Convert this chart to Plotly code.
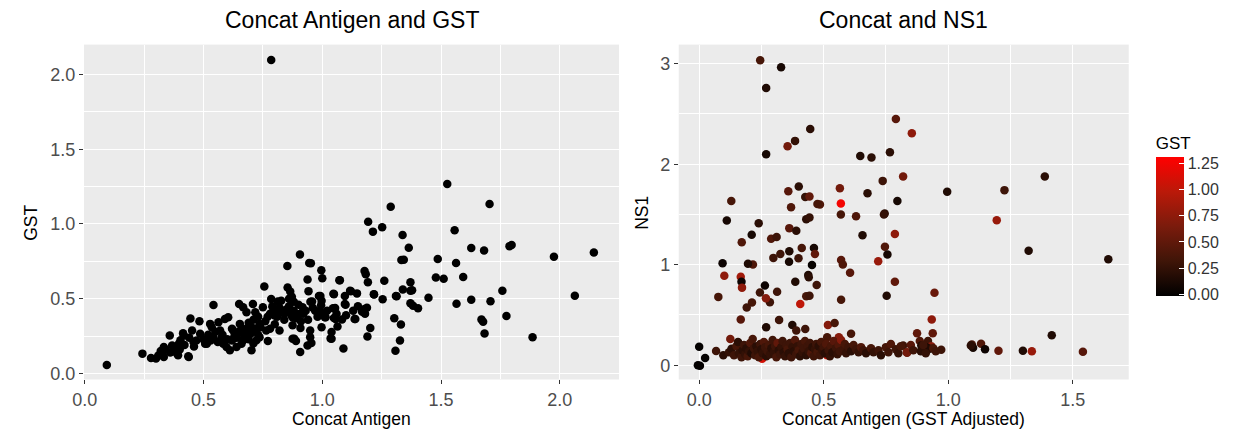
import plotly.graph_objects as go

# ---------------- Left panel: Concat Antigen vs GST ----------------
left_x = [0.093, 0.243, 0.279, 0.300, 0.785,
          1.526, 1.704, 1.288, 1.193, 1.213, 1.252, 1.338, 1.557,
          1.364, 1.627, 1.681, 1.788, 1.797,
          1.333, 1.343, 1.486, 1.563, 1.975, 2.143,
          1.178, 1.183, 1.192, 1.261, 1.072, 0.996, 1.000, 0.945,
          1.478, 1.511, 1.593, 1.371, 1.758, 1.339, 1.371,
          1.117, 1.146, 1.217, 1.310, 1.447, 2.063, 1.095, 1.049,
          1.254, 0.992, 1.627, 1.708, 1.565, 1.371, 1.382, 1.403,
          1.095, 1.045, 1.178, 1.188, 1.167, 1.180, 0.986, 1.011,
          1.049, 1.083, 1.136, 1.303, 1.331, 1.064, 0.997, 1.670, 1.677,
          1.775, 1.202, 1.035, 1.190, 1.327, 1.089, 1.308, 1.683, 1.885,
          0.906, 0.952, 0.853, 0.938, 1.074, 0.756, 0.854, 0.865, 0.942,
          0.872, 0.785, 0.813, 0.986, 0.997, 1.047, 1.120, 1.218, 1.313, 1.378,
          0.957, 1.098, 1.054, 0.995, 0.995, 1.014, 1.056, 1.139, 1.174,
          0.875, 0.908, 0.949, 0.949, 0.954, 0.875, 0.889, 1.039, 1.039, 0.907, 0.938,
          0.792, 0.771, 0.820, 0.875, 0.903, 0.917,
          0.327, 0.333, 0.358, 0.368, 0.393, 0.403, 0.414, 0.445, 0.436, 0.452,
          0.483, 0.486, 0.514, 0.542, 0.535, 0.563, 0.590, 0.604, 0.577, 0.597,
          0.611, 0.639, 0.625, 0.650, 0.667, 0.708, 0.681, 0.718, 0.750, 0.695,
          0.702, 0.660, 0.723, 0.736, 0.764,
          0.333, 0.389, 0.396, 0.417, 0.438, 0.458, 0.507, 0.528, 0.542, 0.570,
          0.583, 0.653, 0.667, 0.702, 0.736, 0.799, 0.827, 0.861, 0.882,
          0.62, 0.63, 0.65, 0.68, 0.70, 0.72, 0.74, 0.76, 0.78, 0.80,
          0.82, 0.84, 0.86, 0.88, 0.90, 0.92, 0.94, 0.96, 0.98, 0.78,
          0.80, 0.84, 0.86, 0.88, 0.67, 0.69, 0.71, 0.73, 0.60, 0.58,
          0.56, 0.55, 0.50, 0.47, 0.44, 0.42, 0.38, 0.36, 0.34, 0.31,
          0.32, 0.40, 0.46, 0.52, 0.53, 0.62, 0.64, 0.66, 0.69, 0.71,
          0.73, 0.77, 0.79, 0.81, 0.83, 0.85, 0.87, 0.89, 0.91, 0.93,
          0.95, 0.97, 1.02, 1.06, 1.10, 1.13, 1.15]
left_y = [0.057, 0.133, 0.104, 0.100, 2.097,
          1.267, 1.133, 1.115, 1.015, 0.949, 0.978, 0.927, 0.958,
          0.841, 0.839, 0.823, 0.852, 0.859,
          0.759, 0.761, 0.766, 0.739, 0.781, 0.810,
          0.686, 0.664, 0.611, 0.620, 0.624, 0.690, 0.637, 0.739,
          0.642, 0.633, 0.646, 0.611, 0.553, 0.562, 0.553,
          0.553, 0.536, 0.531, 0.518, 0.507, 0.520, 0.518, 0.531,
          0.496, 0.518, 0.494, 0.483, 0.467, 0.470, 0.454, 0.436,
          0.465, 0.436, 0.431, 0.440, 0.414, 0.400, 0.416, 0.376,
          0.372, 0.361, 0.365, 0.370, 0.328, 0.315, 0.310, 0.361, 0.347,
          0.385, 0.305, 0.235, 0.248, 0.221, 0.168, 0.153, 0.268, 0.243,
          0.796, 0.737, 0.719, 0.628, 0.624, 0.582, 0.575, 0.549, 0.551,
          0.514, 0.498, 0.482, 0.518, 0.487, 0.534, 0.551, 0.529, 0.516, 0.557,
          0.482, 0.460, 0.438, 0.456, 0.408, 0.376, 0.365, 0.365, 0.410,
          0.323, 0.305, 0.288, 0.243, 0.204, 0.232, 0.217, 0.277, 0.232, 0.144, 0.188,
          0.443, 0.217, 0.288, 0.376, 0.398, 0.443,
          0.133, 0.177, 0.255, 0.188, 0.122, 0.222, 0.270, 0.368, 0.115, 0.288,
          0.350, 0.266, 0.199, 0.458, 0.310, 0.343, 0.365, 0.376, 0.243, 0.177,
          0.155, 0.177, 0.288, 0.465, 0.443, 0.465, 0.409, 0.409, 0.443, 0.266,
          0.155, 0.199, 0.222, 0.332, 0.288,
          0.111, 0.133, 0.199, 0.255, 0.111, 0.210, 0.199, 0.332, 0.243, 0.288,
          0.199, 0.332, 0.222, 0.310, 0.243, 0.388, 0.487, 0.421, 0.232,
          0.22, 0.25, 0.28, 0.30, 0.27, 0.30, 0.31, 0.35, 0.40, 0.42,
          0.44, 0.40, 0.45, 0.42, 0.46, 0.40, 0.36, 0.44, 0.38, 0.30,
          0.33, 0.36, 0.50, 0.48, 0.26, 0.23, 0.20, 0.26, 0.23, 0.26,
          0.21, 0.28, 0.23, 0.22, 0.24, 0.19, 0.16, 0.14, 0.16, 0.12,
          0.15, 0.16, 0.18, 0.26, 0.22, 0.30, 0.24, 0.30, 0.34, 0.36,
          0.38, 0.38, 0.45, 0.38, 0.41, 0.43, 0.39, 0.37, 0.35, 0.42,
          0.48, 0.42, 0.42, 0.40, 0.39, 0.42, 0.45]

# ---------------- Right panel: Concat (GST adjusted) vs NS1, coloured by GST ----------------
right_x = [0.245, 0.329, 0.269, 0.446, 0.385, 0.355, 0.269, 0.790, 0.854, 0.647,
           0.692, 0.766, 0.819, 0.737, 0.676, 0.796, 0.745, 0.742, 0.565, 0.569,
           0.569, 0.630, 0.485, 0.475, 0.400, 0.358, 0.426, 0.443, 0.369, 0.430,
           0.443, 0.362, 0.390, 0.129, 0.111, 0.239, 0.211, 0.786, 0.656, 0.289,
           0.311, 0.746, 0.756, 0.719, 0.786, 0.753, 0.570, 0.577, 0.606, 0.570,
           0.461, 0.465, 0.412, 0.362, 0.399, 0.361, 0.453, 0.438, 0.440, 0.472,
           0.386, 0.326, 0.298, 0.313, 0.284, 0.268, 0.264, 0.244, 0.216, 0.196,
           0.171, 0.167, 0.170, 0.172, 0.212, 0.191, 0.094, 0.101, 0.077, 0.167,
           0.321, 0.269, 0.374, 0.390, 0.426, 0.406, 0.430, 0.443, 0.517, 0.544,
           0.610, 0.996, 1.226, 1.388, 1.195, 1.323, 1.643, 0.945, 0.934, 0.938,
           0.875, 0.886, 1.416,
           0.000, 0.024, -0.005, 0.003,
           0.819, 0.835, 0.919, 0.932, 0.892, 0.912, 0.926, 0.972, 1.095, 1.100,
           1.132, 1.148, 1.202, 1.300, 1.336, 1.541, 1.091,
           0.253, 0.514, 0.594, 0.561, 0.125, 0.834, 0.514,
           0.068, 0.097, 0.120, 0.130, 0.140, 0.150, 0.156, 0.160, 0.170, 0.175,
           0.180, 0.185, 0.190, 0.195, 0.200, 0.205, 0.210, 0.215, 0.220, 0.225,
           0.230, 0.235, 0.240, 0.245, 0.250, 0.255, 0.260, 0.265, 0.270, 0.275,
           0.280, 0.285, 0.290, 0.295, 0.300, 0.305, 0.310, 0.315, 0.320, 0.325,
           0.330, 0.335, 0.340, 0.345, 0.350, 0.355, 0.360, 0.365, 0.370, 0.375,
           0.380, 0.385, 0.390, 0.395, 0.400, 0.405, 0.410, 0.415, 0.420, 0.425,
           0.430, 0.435, 0.440, 0.445, 0.450, 0.455, 0.460, 0.465, 0.470, 0.475,
           0.480, 0.485, 0.490, 0.495, 0.500, 0.505, 0.510, 0.520, 0.525, 0.530,
           0.535, 0.540, 0.550, 0.555, 0.560, 0.565, 0.570, 0.580, 0.585, 0.590,
           0.600, 0.610, 0.620, 0.630, 0.640, 0.650, 0.660, 0.670, 0.690, 0.700,
           0.720, 0.730, 0.750, 0.760, 0.770, 0.790, 0.800, 0.810, 0.850, 0.860,
           0.890, 0.900, 0.910, 0.940, 0.950]
right_y = [3.034, 2.965, 2.757, 2.350, 2.232, 2.179, 2.100, 2.449, 2.308, 2.081,
           2.067, 2.120, 1.877, 1.834, 1.712, 1.633, 1.509, 1.500, 1.761, 1.610,
           1.499, 1.482, 1.600, 1.605, 1.778, 1.732, 1.673, 1.679, 1.571, 1.453,
           1.470, 1.364, 1.337, 1.633, 1.440, 1.413, 1.298, 1.305, 1.292, 1.258,
           1.275, 1.179, 1.101, 1.035, 0.831, 0.690, 1.048, 1.002, 0.920, 0.651,
           1.167, 1.107, 1.167, 1.134, 1.065, 1.029, 0.996, 0.897, 0.875, 0.799,
           0.831, 1.107, 1.068, 0.730, 0.627, 0.667, 0.792, 0.723, 1.002, 1.009,
           1.223, 0.881, 0.831, 0.772, 0.624, 0.575, 1.015, 0.891, 0.680, 0.454,
           0.450, 0.378, 0.400, 0.345, 0.361, 0.608, 0.686, 0.690, 0.400, 0.420,
           0.312, 1.725, 1.742, 1.877, 1.443, 1.140, 1.055, 0.720, 0.454, 0.318,
           0.318, 0.240, 0.299,
           0.183, 0.072, 0.000, -0.005,
           0.197, 0.124, 0.240, 0.190, 0.197, 0.180, 0.164, 0.154, 0.207, 0.174,
           0.213, 0.158, 0.144, 0.144, 0.138, 0.134, 0.197,
           0.065, 0.099, 0.180, 0.279, 0.262, 0.128, 0.279,
           0.141, 0.099, 0.130, 0.164, 0.100, 0.190, 0.230, 0.120, 0.080, 0.150,
           0.200, 0.110, 0.170, 0.090, 0.140, 0.220, 0.120, 0.262, 0.170, 0.100,
           0.190, 0.140, 0.080, 0.210, 0.160, 0.120, 0.230, 0.180, 0.090, 0.140,
           0.200, 0.110, 0.170, 0.250, 0.130, 0.190, 0.080, 0.220, 0.150, 0.110,
           0.180, 0.240, 0.130, 0.090, 0.200, 0.160, 0.120, 0.220, 0.080, 0.180,
           0.140, 0.250, 0.110, 0.190, 0.150, 0.090, 0.210, 0.130, 0.170, 0.240,
           0.100, 0.190, 0.140, 0.220, 0.120, 0.180, 0.090, 0.160, 0.210, 0.130,
           0.190, 0.100, 0.230, 0.150, 0.180, 0.120, 0.210, 0.150, 0.090, 0.190,
           0.130, 0.240, 0.170, 0.110, 0.200, 0.140, 0.250, 0.160, 0.210, 0.120,
           0.180, 0.140, 0.200, 0.160, 0.130, 0.180, 0.150, 0.120, 0.170, 0.130,
           0.150, 0.100, 0.180, 0.130, 0.210, 0.160, 0.120, 0.190, 0.200, 0.150,
           0.140, 0.200, 0.120, 0.170, 0.140]
right_gst = [0.35, 0.10, 0.15, 0.20, 0.25, 0.60, 0.10, 0.45, 0.75, 0.15,
             0.20, 0.20, 0.60, 0.30, 0.20, 0.10, 0.20, 0.25, 0.60, 1.25,
             0.35, 0.40, 0.40, 0.35, 0.20, 0.45, 0.25, 0.50, 0.40, 0.20,
             0.25, 0.45, 0.20, 0.35, 0.10, 0.20, 0.10, 0.75, 0.15, 0.40,
             0.30, 0.40, 0.10, 0.80, 0.50, 0.15, 0.45, 0.40, 0.45, 0.35,
             0.10, 0.50, 0.35, 0.15, 0.30, 0.10, 0.02, 0.15, 0.20, 0.30,
             0.15, 0.30, 0.30, 0.30, 0.30, 0.70, 0.05, 0.30, 0.40, 0.15,
             0.40, 0.85, 0.05, 0.75, 0.35, 0.30, 0.05, 0.75, 0.35, 0.45,
             0.30, 0.15, 0.15, 0.30, 0.30, 1.00, 0.35, 0.30, 0.70, 0.35,
             0.35, 0.15, 0.30, 0.20, 0.80, 0.15, 0.15, 0.55, 0.75, 0.50,
             0.50, 0.40, 0.15,
             0.00, 0.00, 0.00, 0.00,
             0.30, 0.55, 0.30, 0.70, 0.15, 0.10, 0.15, 0.30, 0.35, 0.10,
             0.40, 0.05, 0.50, 0.15, 0.80, 0.45, 0.20,
             1.10, 1.00, 0.80, 0.70, 0.60, 0.60, 0.35,
             0.30, 0.20, 0.25, 0.20, 0.30, 0.35, 0.20, 0.25, 0.30, 0.20,
             0.30, 0.25, 0.20, 0.35, 0.25, 0.40, 0.15, 0.35, 0.30, 0.30,
             0.20, 0.25, 0.35, 0.30, 0.20, 0.25, 0.40, 0.30, 0.20, 0.30,
             0.35, 0.25, 0.20, 0.30, 0.25, 0.30, 0.35, 0.50, 0.20, 0.30,
             0.25, 0.30, 0.20, 0.25, 0.30, 0.35, 0.20, 0.30, 0.30, 0.25,
             0.20, 0.40, 0.30, 0.25, 0.35, 0.20, 0.30, 0.25, 0.30, 0.35,
             0.20, 0.30, 0.25, 0.30, 0.40, 0.20, 0.30, 0.25, 0.30, 0.35,
             0.20, 0.30, 0.35, 0.25, 0.30, 0.20, 0.40, 0.30, 0.25, 0.35,
             0.20, 0.45, 0.30, 0.25, 0.40, 0.30, 0.70, 0.30, 0.35, 0.25,
             0.30, 0.20, 0.35, 0.30, 0.25, 0.40, 0.30, 0.20, 0.35, 0.25,
             0.30, 0.20, 0.35, 0.30, 0.40, 0.30, 0.25, 0.35, 0.45, 0.30,
             0.20, 0.30, 0.25, 0.35, 0.30]

left_xticks = [0.0, 0.5, 1.0, 1.5, 2.0]
left_yticks = [0.0, 0.5, 1.0, 1.5, 2.0]
right_xticks = [0.0, 0.5, 1.0, 1.5]
right_yticks = [0, 1, 2, 3]
cbar_ticks = [0.0, 0.25, 0.5, 0.75, 1.0, 1.25]

FONT = "Liberation Sans, Arial, sans-serif"
W, H = 1233, 437

# colour ramp black -> red (Lab-like interpolation)
cscale = [[0.0, "rgb(0,0,0)"], [0.25, "rgb(63,21,8)"], [0.5, "rgb(122,27,12)"],
          [0.75, "rgb(186,25,9)"], [1.0, "rgb(255,0,0)"]]

fig = go.Figure()
fig.add_trace(go.Scatter(x=left_x, y=left_y, mode="markers", xaxis="x", yaxis="y",
                         marker=dict(color="black", size=8.5, line=dict(width=0)),
                         showlegend=False, hoverinfo="x+y"))
fig.add_trace(go.Scatter(x=right_x, y=right_y, mode="markers", xaxis="x2", yaxis="y2",
                         marker=dict(color=right_gst, colorscale=cscale, cmin=-0.02, cmax=1.31,
                                     size=8.5, line=dict(width=0), showscale=True,
                                     colorbar=dict(
                                         title=dict(text="GST", side="top",
                                                    font=dict(size=17, color="black", family=FONT)),
                                         thickness=28, thicknessmode="pixels",
                                         len=163, lenmode="pixels",
                                         x=1155 / W, xanchor="left", xpad=0,
                                         y=(H - 299) / H, yanchor="bottom", ypad=0,
                                         tickvals=cbar_ticks, ticktext=["0.00", "0.25", "0.50", "0.75", "1.00", "1.25"],
                                         ticks="inside", ticklen=5, tickcolor="white",
                                         tickfont=dict(size=16, color="#333333", family=FONT),
                                         outlinewidth=0)),
                         showlegend=False, hoverinfo="x+y"))

grid = dict(showgrid=True, gridcolor="white", gridwidth=1.3, zeroline=False,
            ticks="outside", ticklen=4, tickcolor="#333333", tickwidth=1,
            tickfont=dict(size=18, color="#4D4D4D", family=FONT), showline=False)

py0, py1 = (H - 383) / H, (H - 45) / H
fig.update_layout(
    width=W, height=H, margin=dict(l=0, r=0, t=0, b=0),
    paper_bgcolor="white", plot_bgcolor="#EBEBEB",
    font=dict(family=FONT),
    xaxis=dict(domain=[72.7 / W, 613 / W], range=[-0.003, 2.249], tickvals=left_xticks,
               ticktext=["0.0", "0.5", "1.0", "1.5", "2.0"], anchor="y",
               minor=dict(showgrid=True, gridcolor="white", gridwidth=0.6, dtick=0.25, tick0=0, ticks=""),
               **grid),
    yaxis=dict(domain=[py0, py1], range=[-0.04, 2.2], tickvals=left_yticks,
               ticktext=["0.0", "0.5", "1.0", "1.5", "2.0"], anchor="x",
               minor=dict(showgrid=True, gridcolor="white", gridwidth=0.6, dtick=0.25, tick0=0, ticks=""),
               **grid),
    xaxis2=dict(domain=[673.3 / W, 1127.7 / W], range=[-0.082, 1.725], tickvals=right_xticks,
                ticktext=["0.0", "0.5", "1.0", "1.5"], anchor="y2",
                minor=dict(showgrid=True, gridcolor="white", gridwidth=0.6, dtick=0.25, tick0=0, ticks=""),
                **grid),
    yaxis2=dict(domain=[py0, py1], range=[-0.142, 3.19], tickvals=right_yticks,
                ticktext=["0", "1", "2", "3"], anchor="x2",
                minor=dict(showgrid=True, gridcolor="white", gridwidth=0.6, dtick=0.5, tick0=0, ticks=""),
                **grid),
)

ann = [
    dict(text="Concat Antigen and GST", x=343 / W, y=(H - 20) / H, size=23),
    dict(text="Concat and NS1", x=900 / W, y=(H - 20) / H, size=23),
    dict(text="Concat Antigen", x=343 / W, y=(H - 423) / H, size=17.5),
    dict(text="Concat Antigen (GST Adjusted)", x=900 / W, y=(H - 423) / H, size=17.5),
]
for a in ann:
    fig.add_annotation(text=a["text"], x=a["x"], y=a["y"], xref="paper", yref="paper",
                       showarrow=False, xanchor="center", yanchor="middle",
                       font=dict(size=a["size"], color="black", family=FONT))
fig.add_annotation(text="GST", x=19 / W, y=(H - 225) / H, xref="paper", yref="paper",
                   showarrow=False, textangle=-90, xanchor="center", yanchor="middle",
                   font=dict(size=17.5, color="black", family=FONT))
fig.add_annotation(text="NS1", x=636 / W, y=(H - 215) / H, xref="paper", yref="paper",
                   showarrow=False, textangle=-90, xanchor="center", yanchor="middle",
                   font=dict(size=17.5, color="black", family=FONT))

fig.write_html("out.html")
